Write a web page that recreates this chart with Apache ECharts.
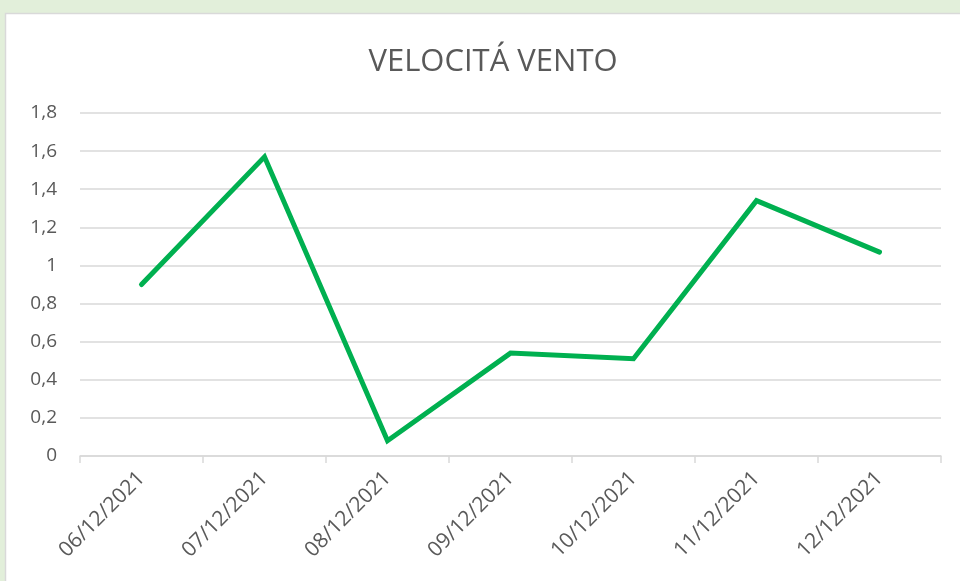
<!DOCTYPE html>
<html>
<head>
<meta charset="utf-8">
<script src="https://cdn.jsdelivr.net/npm/echarts@6/dist/echarts.min.js"></script>
<style>
html,body{margin:0;padding:0;background:#E2EFDA;}
#c{width:960px;height:581px;}
</style>
</head>
<body>
<div id="c"></div>
<script>
const titleText = 'VELOCITÁ VENTO';
const categories = ['06/12/2021','07/12/2021','08/12/2021','09/12/2021','10/12/2021','11/12/2021','12/12/2021'];
const windSpeed = [0.90, 1.57, 0.08, 0.54, 0.51, 1.34, 1.07];

const chart = echarts.init(document.getElementById('c'));
const fontFam = "'Open Sans', 'Noto Sans', sans-serif";
chart.setOption({
  backgroundColor: '#E2EFDA',
  animation: false,
  graphic: [{
    type: 'rect',
    shape: {x: 5.5, y: 13.5, width: 960, height: 580},
    style: {fill: '#FFFFFF', stroke: '#D9D9D9', lineWidth: 1.5},
    z: -10
  }],
  title: {
    text: titleText,
    left: 488,
    top: 42,
    textAlign: 'center',
    textStyle: {color: '#595959', fontSize: 31, fontWeight: 'normal', fontFamily: fontFam}
  },
  grid: {left: 80, right: 19, top: 113, bottom: 125, containLabel: false},
  xAxis: {
    type: 'category',
    data: categories,
    boundaryGap: true,
    axisLine: {lineStyle: {color: '#D9D9D9', width: 1.5}},
    axisTick: {show: true, length: 7, lineStyle: {color: '#D9D9D9', width: 1.5}},
    axisLabel: {rotate: 45, color: '#595959', fontSize: 21, fontFamily: fontFam, margin: 19}
  },
  yAxis: {
    type: 'value',
    min: 0, max: 1.8, interval: 0.2,
    axisLine: {show: false},
    axisTick: {show: false},
    splitLine: {lineStyle: {color: '#D9D9D9', width: 1.5}},
    axisLabel: {
      color: '#595959', fontSize: 19, fontFamily: fontFam, margin: 23,
      formatter: v => String(Math.round(v * 10) / 10).replace('.', ',')
    }
  },
  series: [{
    type: 'line',
    data: windSpeed,
    showSymbol: false,
    lineStyle: {color: '#00B050', width: 5, cap: 'round', join: 'miter'},
    itemStyle: {color: '#00B050'}
  }]
});
</script>
</body>
</html>
